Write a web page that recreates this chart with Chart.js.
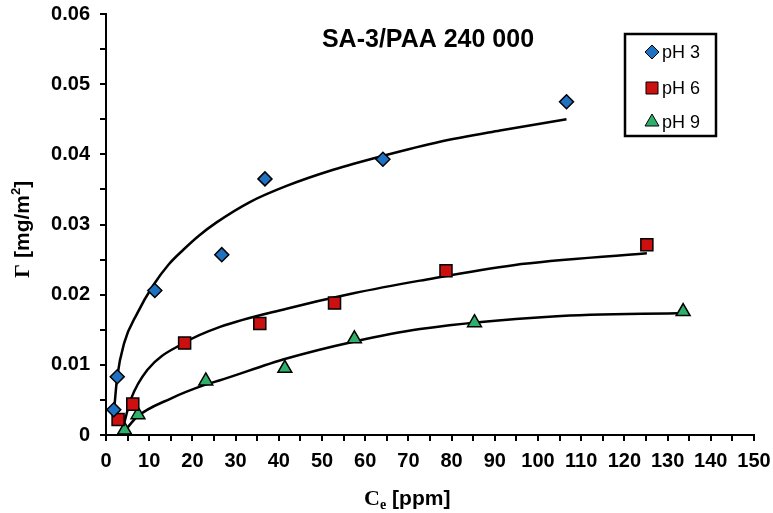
<!DOCTYPE html>
<html>
<head>
<meta charset="utf-8">
<script src="https://cdn.jsdelivr.net/npm/chart.js@4.4.1/dist/chart.umd.min.js"></script>
<style>
  html, body { margin: 0; padding: 0; background: #fff; }
  #wrap { width: 773px; height: 513px; }
</style>
</head>
<body>
<div id="wrap"><canvas id="chart"></canvas></div>
<script>
// measured points
const ph3X = [1.8, 2.6, 11.3, 26.8, 36.8, 64.1, 106.6];
const ph3Y = [0.0036, 0.0083, 0.0206, 0.0257, 0.0365, 0.0393, 0.0475];
const ph6X = [2.8, 6.2, 18.2, 35.6, 52.9, 78.7, 125.2];
const ph6Y = [0.0022, 0.0044, 0.0131, 0.0159, 0.0188, 0.0234, 0.0271];
const ph9X = [4.3, 7.4, 23.1, 41.4, 57.5, 85.3, 133.6];
const ph9Y = [0.0007, 0.0029, 0.0077, 0.0095, 0.0137, 0.0160, 0.0176];

// fitted curves
const fit3X = [1.8, 2.6, 4.2, 7.2, 10.9, 14.5, 17.9, 21.5, 25.6, 33.3, 41.8, 52.6, 64.2, 77.3, 91.2, 106.6];
const fit3Y = [0.0030, 0.0083, 0.0131, 0.0173, 0.0213, 0.0243, 0.0264, 0.0284, 0.0303, 0.0332, 0.0355, 0.0378, 0.0398, 0.0418, 0.0434, 0.0450];
const fit6X = [4.0, 5.7, 9.6, 18.0, 26.4, 41.8, 57.3, 72.7, 94.3, 125.2];
const fit6Y = [0.0012, 0.0050, 0.0093, 0.0131, 0.0154, 0.0180, 0.0202, 0.0220, 0.0242, 0.0259];
const fit9X = [4.5, 7.2, 15.0, 22.7, 26.4, 41.8, 57.3, 72.7, 103.5, 134.4];
const fit9Y = [0.0007, 0.0026, 0.0052, 0.0071, 0.0078, 0.0109, 0.0133, 0.0151, 0.0169, 0.0174];

const seriesNames = ['pH 3', 'pH 6', 'pH 9'];
const titleText = 'SA-3/PAA 240 000';

function pts(xs, ys) {
  return xs.map((x, i) => ({ x: x, y: ys[i] }));
}

const markerStyles = [
  { pointStyle: 'rectRot', color: '#1f72c2', radius: 7 },
  { pointStyle: 'rect', color: '#cc1010', radius: 8.5 },
  { pointStyle: 'triangle', color: '#2fb06a', radius: 8 }
];

function markerSet(label, xs, ys, st) {
  return {
    label: label,
    data: pts(xs, ys),
    showLine: false,
    pointStyle: st.pointStyle,
    pointRadius: st.radius,
    pointHoverRadius: st.radius,
    pointBackgroundColor: st.color,
    pointBorderColor: '#000',
    pointBorderWidth: 1.5
  };
}

function fitSet(xs, ys) {
  return {
    label: 'fit',
    data: pts(xs, ys),
    showLine: true,
    pointRadius: 0,
    borderColor: '#000',
    borderWidth: 2.5,
    cubicInterpolationMode: 'monotone',
    fill: false
  };
}

const extras = {
  id: 'extras',
  afterDraw(chart) {
    const ctx = chart.ctx;
    ctx.save();
    ctx.fillStyle = '#000';
    ctx.textBaseline = 'middle';

    // title inside plot
    ctx.font = 'bold 25px "Liberation Sans", Arial, sans-serif';
    ctx.textAlign = 'center';
    ctx.fillText(titleText, 428, 40);

    // legend box
    ctx.lineWidth = 2.5;
    ctx.strokeStyle = '#000';
    ctx.strokeRect(625, 34, 91, 102);
    ctx.font = '18px "Liberation Sans", Arial, sans-serif';
    ctx.textAlign = 'left';
    const rowY = [52, 88, 122];
    for (let i = 0; i < 3; i++) {
      const st = markerStyles[i];
      ctx.fillStyle = st.color;
      ctx.strokeStyle = '#000';
      ctx.lineWidth = 1;
      Chart.helpers.drawPoint(ctx, { pointStyle: st.pointStyle, radius: st.radius, rotation: 0, borderWidth: 1 }, 652, rowY[i]);
      ctx.fillStyle = '#000';
      ctx.fillText(seriesNames[i], 662, rowY[i] + 1);
    }

    // x axis title: C (serif) + subscript e + [ppm]
    ctx.textAlign = 'left';
    ctx.textBaseline = 'alphabetic';
    let x = 364;
    const base = 505;
    ctx.font = 'bold 22px "Liberation Serif", "Times New Roman", serif';
    ctx.fillText('C', x, base);
    x += ctx.measureText('C').width;
    ctx.font = 'bold 14px "Liberation Serif", "Times New Roman", serif';
    ctx.fillText('e', x, base + 4);
    x += ctx.measureText('e').width + 6;
    ctx.font = 'bold 21px "Liberation Sans", Arial, sans-serif';
    ctx.fillText('[ppm]', x, base);

    // y axis title rotated
    ctx.translate(22, 222);
    ctx.rotate(-Math.PI / 2);
    ctx.textAlign = 'left';
    let y = -56;
    ctx.font = 'bold 22px "Liberation Serif", "Times New Roman", serif';
    ctx.fillText('\u0393', y, 7);
    y += ctx.measureText('\u0393').width + 6;
    ctx.font = 'bold 21px "Liberation Sans", Arial, sans-serif';
    ctx.fillText('[mg/m', y, 7);
    y += ctx.measureText('[mg/m').width;
    ctx.font = 'bold 13px "Liberation Sans", Arial, sans-serif';
    ctx.fillText('2', y, -2);
    y += ctx.measureText('2').width;
    ctx.font = 'bold 21px "Liberation Sans", Arial, sans-serif';
    ctx.fillText(']', y, 7);

    ctx.restore();
  }
};

const tickFont = { family: '"Liberation Sans", Arial, sans-serif', size: 20, weight: 'bold' };

const config = {
  type: 'scatter',
  data: {
    datasets: [
      markerSet(seriesNames[0], ph3X, ph3Y, markerStyles[0]),
      markerSet(seriesNames[1], ph6X, ph6Y, markerStyles[1]),
      markerSet(seriesNames[2], ph9X, ph9Y, markerStyles[2]),
      fitSet(fit3X, fit3Y),
      fitSet(fit6X, fit6Y),
      fitSet(fit9X, fit9Y)
    ]
  },
  options: {
    responsive: true,
    maintainAspectRatio: false,
    animation: false,
    layout: { padding: 0 },
    plugins: {
      legend: { display: false },
      tooltip: { enabled: false },
      title: { display: false }
    },
    scales: {
      x: {
        type: 'linear',
        min: 0,
        max: 150,
        border: { color: '#000', width: 2 },
        grid: { drawOnChartArea: false, color: '#000', lineWidth: 2, tickLength: 6 },
        ticks: {
          stepSize: 5,
          autoSkip: false,
          maxRotation: 0,
          color: '#000',
          font: tickFont,
          padding: 8,
          callback: v => (v % 10 === 0 ? String(v) : '')
        },
        afterFit: s => {
          s.height = 78;
          s.paddingLeft = 0;
          s.paddingRight = 19;
        }
      },
      y: {
        min: 0,
        max: 0.06,
        border: { color: '#000', width: 2 },
        grid: { drawOnChartArea: false, color: '#000', lineWidth: 2, tickLength: 6 },
        ticks: {
          stepSize: 0.005,
          autoSkip: false,
          color: '#000',
          font: tickFont,
          padding: 10,
          callback: v => {
            const k = Math.round(v * 1000);
            if (k % 10 !== 0) return '';
            return k === 0 ? '0' : (k / 1000).toFixed(2);
          }
        },
        afterFit: s => {
          s.width = 106;
          s.paddingTop = 14;
          s.paddingBottom = 0;
        }
      }
    }
  },
  plugins: [extras]
};

const myChart = new Chart(document.getElementById('chart'), config);
</script>
</body>
</html>
